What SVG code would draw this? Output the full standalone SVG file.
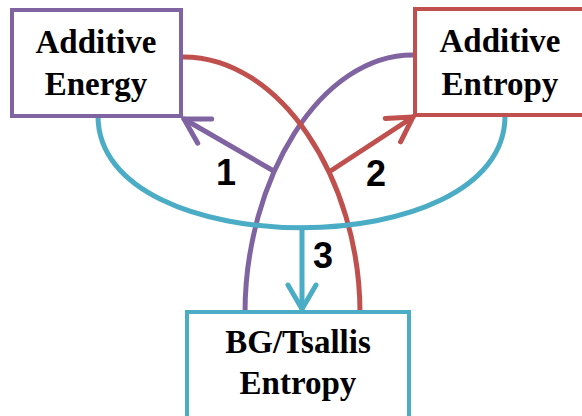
<svg xmlns="http://www.w3.org/2000/svg" width="582" height="416" viewBox="0 0 582 416">
<style>
.box{fill:#fff;stroke-width:4}
.lbl{font-family:"Liberation Serif","Times New Roman",serif;font-weight:bold;font-size:33px;fill:#000;text-anchor:middle}
.num{font-family:"Liberation Sans",Arial,sans-serif;font-weight:bold;font-size:36px;fill:#000;text-anchor:middle}
.c{fill:none;stroke-width:5;stroke-linecap:round}
</style>
<defs>
<marker id="hp" markerUnits="userSpaceOnUse" markerWidth="40" markerHeight="40" refX="0" refY="0" orient="auto" overflow="visible"><path d="M-24,-14 L0,0 L-24,14" fill="none" stroke="#8064A2" stroke-width="5" stroke-linecap="round" stroke-linejoin="round"/></marker>
<marker id="hr" markerUnits="userSpaceOnUse" markerWidth="40" markerHeight="40" refX="0" refY="0" orient="auto" overflow="visible"><path d="M-24,-14 L0,0 L-24,14" fill="none" stroke="#C0504D" stroke-width="5" stroke-linecap="round" stroke-linejoin="round"/></marker>
<marker id="hc" markerUnits="userSpaceOnUse" markerWidth="40" markerHeight="40" refX="0" refY="0" orient="auto" overflow="visible"><path d="M-24,-14 L0,0 L-24,14" fill="none" stroke="#4BACC6" stroke-width="5" stroke-linecap="round" stroke-linejoin="round"/></marker>
</defs>
<g id="connectors">
<path class="c" stroke="#8064A2" d="M415,55 C320,53 245,180 245,313"/>
<path class="c" stroke="#C0504D" d="M181,57 C280,55 360,180 360,313"/>
<path class="c" stroke="#4BACC6" d="M98,116 C98,265 505,265 505,116"/>
<line class="c" stroke="#8064A2" x1="272" y1="170" x2="184" y2="119" marker-end="url(#hp)"/>
<line class="c" stroke="#C0504D" x1="332" y1="170" x2="413" y2="117" marker-end="url(#hr)"/>
<line class="c" stroke="#4BACC6" x1="302" y1="228" x2="302" y2="309" marker-end="url(#hc)"/>
<text class="num" x="226" y="185">1</text>
<text class="num" x="376" y="186">2</text>
<text class="num" x="323" y="268">3</text>
</g>
<g id="additive-energy">
<rect class="box" stroke="#8064A2" x="12" y="10" width="169" height="106"/>
<text class="lbl" x="96" y="53">Additive</text>
<text class="lbl" x="96" y="95">Energy</text>
</g>
<g id="additive-entropy">
<rect class="box" stroke="#C0504D" x="415" y="9" width="172" height="106"/>
<text class="lbl" x="500" y="52">Additive</text>
<text class="lbl" x="500" y="95">Entropy</text>
</g>
<g id="bg-tsallis-entropy">
<rect class="box" stroke="#4BACC6" x="187" y="312" width="222" height="106"/>
<text class="lbl" x="298" y="353">BG/Tsallis</text>
<text class="lbl" x="298" y="394">Entropy</text>
</g>
</svg>
